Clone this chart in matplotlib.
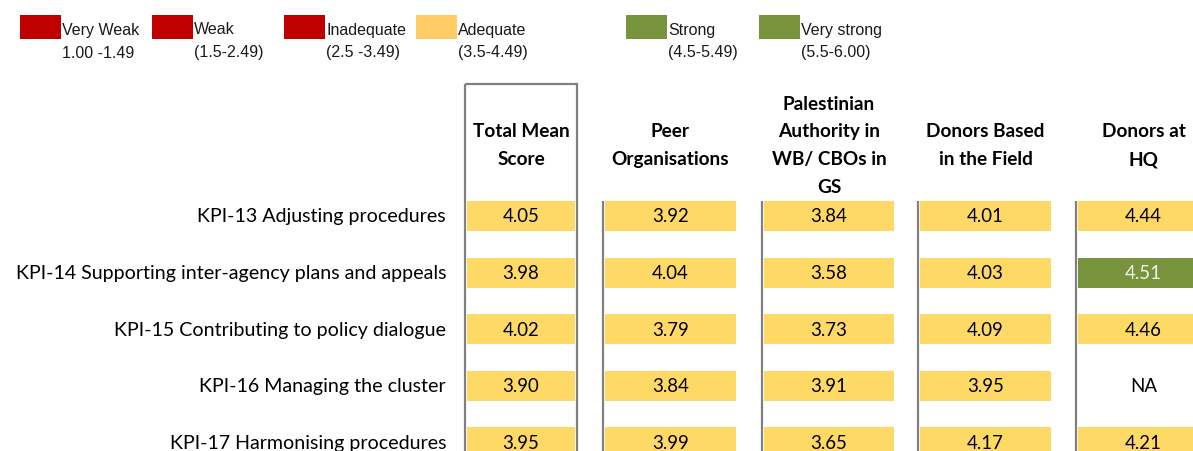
import matplotlib
matplotlib.use("Agg")
import matplotlib.pyplot as plt
from matplotlib.patches import Rectangle

# ---------------- data ----------------
kpis = [
    "KPI-13 Adjusting procedures",
    "KPI-14 Supporting inter-agency plans and appeals",
    "KPI-15 Contributing to policy dialogue",
    "KPI-16 Managing the cluster",
    "KPI-17 Harmonising procedures",
]
groups = [
    ["Total Mean", "Score"],
    ["Peer", "Organisations"],
    ["Palestinian", "Authority in", "WB/ CBOs in", "GS"],
    ["Donors Based", "in the Field"],
    ["Donors at", "HQ"],
]
total_mean = [4.05, 3.98, 4.02, 3.90, 3.95]
peer_orgs = [3.92, 4.04, 3.79, 3.84, 3.99]
pa_cbos = [3.84, 3.58, 3.73, 3.91, 3.65]
donors_field = [4.01, 4.03, 4.09, 3.95, 4.17]
donors_hq = [4.44, 4.51, 4.46, None, 4.21]
series = [total_mean, peer_orgs, pa_cbos, donors_field, donors_hq]

rating_labels = ["Very Weak", "Weak", "Inadequate", "Adequate", "Strong", "Very strong"]
rating_ranges = ["1.00 -1.49", "(1.5-2.49)", "(2.5 -3.49)", "(3.5-4.49)", "(4.5-5.49)", "(5.5-6.00)"]
rating_lower = [1.0, 1.5, 2.5, 3.5, 4.5, 5.5]
rating_colors = ["#C00000", "#C00000", "#C00000", "#FFCC66", "#77933C", "#77933C"]
cell_colors = ["#C00000", "#C00000", "#C00000", "#FFD966", "#77933C", "#77933C"]
text_colors = ["white", "white", "white", "black", "#F2F2F2", "#F2F2F2"]

# ---------------- layout (pixels) ----------------
W, H = 1193, 452
legend_x = [20, 152, 284, 416, 626, 759]
sw_w, sw_top, sw_h = 41, 16, 24
col_left = [467, 605, 764, 920, 1078]
col_width = [108, 131, 130, 131, 131]
row_top0, row_pitch, row_h = 202, 56.6, 30
label_right = 446
header_mid, header_pitch = 146, 28
grey = "#808080"

body_font = "Lato"
fs_label = 14.1
fs_head = 13.7
fs_val = 13.4

fig = plt.figure(figsize=(W / 100, H / 100), dpi=100)
ax = fig.add_axes([0, 0, 1, 1])
ax.set_xlim(0, W)
ax.set_ylim(H, 0)
ax.axis("off")

# legend
for x, lab, rng, col in zip(legend_x, rating_labels, rating_ranges, rating_colors):
    ax.add_patch(Rectangle((x, sw_top), sw_w, sw_h, facecolor=col, edgecolor="none"))
    ax.text(x + sw_w + 1, 30, lab, ha="left", va="center", fontsize=11.5,
            family="Liberation Sans", color="#1a1a1a")
    ax.text(x + sw_w + 1, 53, rng, ha="left", va="center", fontsize=11.5,
            family="Liberation Sans", color="#1a1a1a")

def rating_index(v):
    idx = 0
    for i, lo in enumerate(rating_lower):
        if v >= lo:
            idx = i
    return idx

# headers
for j, lines in enumerate(groups):
    cx = col_left[j] + col_width[j] / 2
    n = len(lines)
    for i, line in enumerate(lines):
        y = header_mid + (i - (n - 1) / 2) * header_pitch
        ax.text(cx, y, line, ha="center", va="center", fontsize=fs_head,
                family=body_font, fontweight="bold", color="black")

# rows
for r, kpi in enumerate(kpis):
    top = row_top0 + r * row_pitch
    cy = top + row_h / 2
    ax.text(label_right, cy, kpi, ha="right", va="center", fontsize=fs_label,
            family=body_font, color="black")
    for j, vals in enumerate(series):
        v = vals[r]
        cx = col_left[j] + col_width[j] / 2
        if v is None:
            ax.text(cx, cy, "NA", ha="center", va="center", fontsize=fs_val,
                    family=body_font, color="black")
            continue
        k = rating_index(v)
        ax.add_patch(Rectangle((col_left[j], top), col_width[j], row_h,
                               facecolor=cell_colors[k], edgecolor="none"))
        ax.text(cx, cy, f"{v:.2f}", ha="center", va="center", fontsize=fs_val,
                family=body_font, color=text_colors[k])

# separators
for j in range(1, len(col_left)):
    ax.plot([col_left[j] - 2, col_left[j] - 2], [row_top0, H + 5], color=grey, lw=1.6,
            solid_capstyle="butt")
# box around total mean column
ax.add_patch(Rectangle((col_left[0] - 2, 85), col_width[0] + 4, H, facecolor="none",
                       edgecolor=grey, lw=1.6))

fig.savefig("out.png", dpi=100)
